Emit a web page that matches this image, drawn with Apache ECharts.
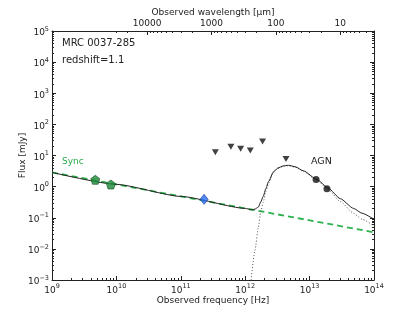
<!DOCTYPE html>
<html><head><meta charset="utf-8">
<script src="https://cdn.jsdelivr.net/npm/echarts@6/dist/echarts.min.js"></script>
<style>html,body{margin:0;padding:0;background:#fff}#c{width:416px;height:312px}</style>
</head><body><div id="c"></div>
<script>
// ---- data (frequency in Hz, flux in mJy) ----
const syncFreq = [1e9, 1e14];
const syncFlux = [2.86, 0.034];
const agnFreq = [1.22e12, 1.42e12, 1.6e12, 1.74e12, 1.9e12, 2.1e12, 2.3e12, 2.75e12, 3.2e12, 3.9e12, 4.7e12, 6e12, 8e12, 1.3e13, 1.95e13, 3e13, 4.8e13, 6.5e13, 1e14];
const agnFlux = [0.0008, 0.009, 0.05, 0.15, 0.31, 0.7, 1.3, 2.85, 3.8, 4.5, 4.7, 4.2, 3.1, 1.6, 0.8, 0.33, 0.14, 0.09, 0.054];
const totalFreq = [1e9, 1e10, 1e11, 1e12, 1.26e12, 1.42e12, 1.6e12, 1.74e12, 1.9e12, 2.1e12, 2.3e12, 2.75e12, 3.2e12, 3.9e12, 4.7e12, 6e12, 8e12, 1.3e13, 1.95e13, 3e13, 4.8e13, 6.5e13, 1e14];
const totalFlux = [2.86, 1.18, 0.485, 0.2, 0.18, 0.19, 0.22, 0.32, 0.48, 0.87, 1.45, 3.0, 3.95, 4.65, 4.85, 4.35, 3.22, 1.7, 0.89, 0.41, 0.2, 0.14, 0.089];
const radioFreq = [4.7e9, 8.2e9];
const radioFlux = [1.66, 1.17];
const mmFreq = [2.3e11];
const mmFlux = [0.39];
const limitFreq = [3.44e11, 6.0e11, 8.5e11, 1.2e12, 1.86e12, 4.3e12];
const limitFlux = [12.8, 19, 16.4, 14.6, 28.4, 7.65];
const irFreq = [1.26e13, 1.86e13];
const irFlux = [1.7, 0.85];
const xMajorTicks = [1e9, 1e10, 1e11, 1e12, 1e13, 1e14];
const yMajorTicks = [1e-3, 1e-2, 1e-1, 1e0, 1e1, 1e2, 1e3, 1e4, 1e5];
const wlMajorTicks = [10, 100, 1000, 10000];
const C_UM = 2.99792458e14; // speed of light in micron*Hz

function minorsFor(lo, hi) {
  const out = [];
  for (let e = Math.floor(Math.log10(lo)) - 1; e <= Math.ceil(Math.log10(hi)); e++) {
    for (let m = 2; m <= 9; m++) {
      const v = m * Math.pow(10, e);
      if (v > lo * 1.0001 && v < hi * 0.9999) out.push(v);
    }
  }
  return out;
}
const xMinor = minorsFor(1e9, 1e14);
const yMinor = minorsFor(1e-3, 1e5);
const wlMinor = minorsFor(C_UM / 1e14, 35000);

const FONT = 'DejaVu Sans';
const supRich = {
  b: { fontSize: 9, fontFamily: FONT, color: '#222', verticalAlign: 'bottom', lineHeight: 13 },
  s: { fontSize: 6.5, fontFamily: FONT, color: '#222', verticalAlign: 'bottom', lineHeight: 13, padding: [0, 0, 5, 0] }
};
function powLabel(v) {
  const e = Math.round(Math.log10(v));
  return '{b|10}{s|' + (e < 0 ? '\u2212' + (-e) : e) + '}';
}
const lineStyle = { color: '#222', width: 1 };

const chart = echarts.init(document.getElementById('c'), null, { renderer: 'canvas' });
const gridPos = { left: 52, top: 31, width: 322, height: 249 };

function freqAxis(extra) {
  return Object.assign({
    type: 'log', gridIndex: 0, min: 1e9, max: 1e14, position: 'bottom',
    splitLine: { show: false }, minorTick: { show: false }, minorSplitLine: { show: false }
  }, extra);
}
function fluxAxis(extra) {
  return Object.assign({
    type: 'log', gridIndex: 0, min: 1e-3, max: 1e5,
    splitLine: { show: false }, minorTick: { show: false }, minorSplitLine: { show: false }
  }, extra);
}
function wlAxis(extra) {
  return Object.assign({
    type: 'log', gridIndex: 0, min: C_UM / 1e14, max: C_UM / 1e9, inverse: true, position: 'top',
    splitLine: { show: false }, minorTick: { show: false }, minorSplitLine: { show: false }
  }, extra);
}

const option = {
  animation: false,
  backgroundColor: '#fff',
  grid: gridPos,
  xAxis: [
    freqAxis({
      name: 'Observed frequency [Hz]', nameLocation: 'middle', nameGap: 16, nameMoveOverlap: false,
      nameTextStyle: { fontFamily: FONT, fontSize: 9, color: '#222' },
      axisLine: { show: true, lineStyle: lineStyle },
      axisTick: { show: true, inside: true, length: 4, customValues: xMajorTicks, lineStyle: lineStyle },
      axisLabel: { show: true, customValues: xMajorTicks, margin: 2, formatter: powLabel, rich: supRich, showMinLabel: true, showMaxLabel: true }
    }),
    freqAxis({
      axisLine: { show: false }, axisLabel: { show: false },
      axisTick: { show: true, inside: true, length: 2, customValues: xMinor, lineStyle: lineStyle }
    }),
    wlAxis({
      name: 'Observed wavelength [\u03bcm]', nameLocation: 'middle', nameGap: 14, nameMoveOverlap: false,
      nameTextStyle: { fontFamily: FONT, fontSize: 9, color: '#222' },
      axisLine: { show: true, lineStyle: lineStyle },
      axisTick: { show: true, inside: true, length: 4, customValues: wlMajorTicks, lineStyle: lineStyle },
      axisLabel: { show: true, customValues: wlMajorTicks, margin: 3, fontFamily: FONT, fontSize: 9, color: '#222',
        formatter: v => String(Math.round(v)) }
    }),
    wlAxis({
      axisLine: { show: false }, axisLabel: { show: false },
      axisTick: { show: true, inside: true, length: 2, customValues: wlMinor, lineStyle: lineStyle }
    })
  ],
  yAxis: [
    fluxAxis({
      position: 'left',
      name: 'Flux [mJy]', nameLocation: 'middle', nameGap: 25, nameMoveOverlap: false,
      nameTextStyle: { fontFamily: FONT, fontSize: 9, color: '#222' },
      axisLine: { show: true, lineStyle: lineStyle },
      axisTick: { show: true, inside: true, length: 4, customValues: yMajorTicks, lineStyle: lineStyle },
      axisLabel: { show: true, customValues: yMajorTicks, margin: 3, formatter: powLabel, rich: supRich, showMinLabel: true, showMaxLabel: true }
    }),
    fluxAxis({
      position: 'left', axisLine: { show: false }, axisLabel: { show: false },
      axisTick: { show: true, inside: true, length: 2, customValues: yMinor, lineStyle: lineStyle }
    }),
    fluxAxis({
      position: 'right', axisLine: { show: true, lineStyle: lineStyle }, axisLabel: { show: false },
      axisTick: { show: true, inside: true, length: 4, customValues: yMajorTicks, lineStyle: lineStyle }
    }),
    fluxAxis({
      position: 'right', axisLine: { show: false }, axisLabel: { show: false },
      axisTick: { show: true, inside: true, length: 2, customValues: yMinor, lineStyle: lineStyle }
    })
  ],
  series: [
    {
      type: 'line', name: 'sync', data: syncFreq.map((f, i) => [f, syncFlux[i]]),
      showSymbol: false, symbol: 'none', z: 2,
      lineStyle: { color: '#2cb24c', width: 1.8, type: [6, 4] }
    },
    {
      type: 'line', name: 'agn', data: agnFreq.map((f, i) => [f, agnFlux[i]]),
      showSymbol: false, symbol: 'none', smooth: 0.2, smoothMonotone: 'x', z: 2,
      lineStyle: { color: '#555', width: 1, type: [1, 2] }
    },
    {
      type: 'line', name: 'total', data: totalFreq.map((f, i) => [f, totalFlux[i]]),
      showSymbol: false, symbol: 'none', smooth: 0.2, smoothMonotone: 'x', z: 3,
      lineStyle: { color: '#222', width: 1 }
    },
    {
      type: 'scatter', name: 'radio', data: radioFreq.map((f, i) => [f, radioFlux[i]]), z: 5,
      symbol: 'path://M0,-10 L9.51,-3.09 L5.88,8.09 L-5.88,8.09 L-9.51,-3.09 Z', symbolSize: 9,
      itemStyle: { color: '#1f8a3a', borderColor: '#0d4d1d', borderWidth: 0.8 }
    },
    {
      type: 'scatter', name: 'mm', data: mmFreq.map((f, i) => [f, mmFlux[i]]), z: 5,
      symbol: 'diamond', symbolSize: [8, 10],
      itemStyle: { color: '#2a6ef5', borderColor: '#123a8a', borderWidth: 0.8 }
    },
    {
      type: 'scatter', name: 'limits', data: limitFreq.map((f, i) => [f, limitFlux[i]]), z: 5,
      symbol: 'triangle', symbolRotate: 180, symbolSize: [7, 6],
      itemStyle: { color: '#111' }
    },
    {
      type: 'scatter', name: 'ir', data: irFreq.map((f, i) => [f, irFlux[i]]), z: 5,
      symbol: 'circle', symbolSize: 7,
      itemStyle: { color: '#111' }
    }
  ],
  graphic: [
    { type: 'text', left: 62, top: 38, style: { text: 'MRC 0037-285', fontFamily: FONT, fontSize: 10, fill: '#222' } },
    { type: 'text', left: 62, top: 55, style: { text: 'redshift=1.1', fontFamily: FONT, fontSize: 10, fill: '#222' } },
    { type: 'text', left: 62, top: 157, style: { text: 'Sync', fontFamily: FONT, fontSize: 9, fill: '#2aa84a' } },
    { type: 'text', left: 311, top: 157, style: { text: 'AGN', fontFamily: FONT, fontSize: 9.5, fill: '#222' } }
  ]
};
chart.setOption(option);
</script>
</body></html>
